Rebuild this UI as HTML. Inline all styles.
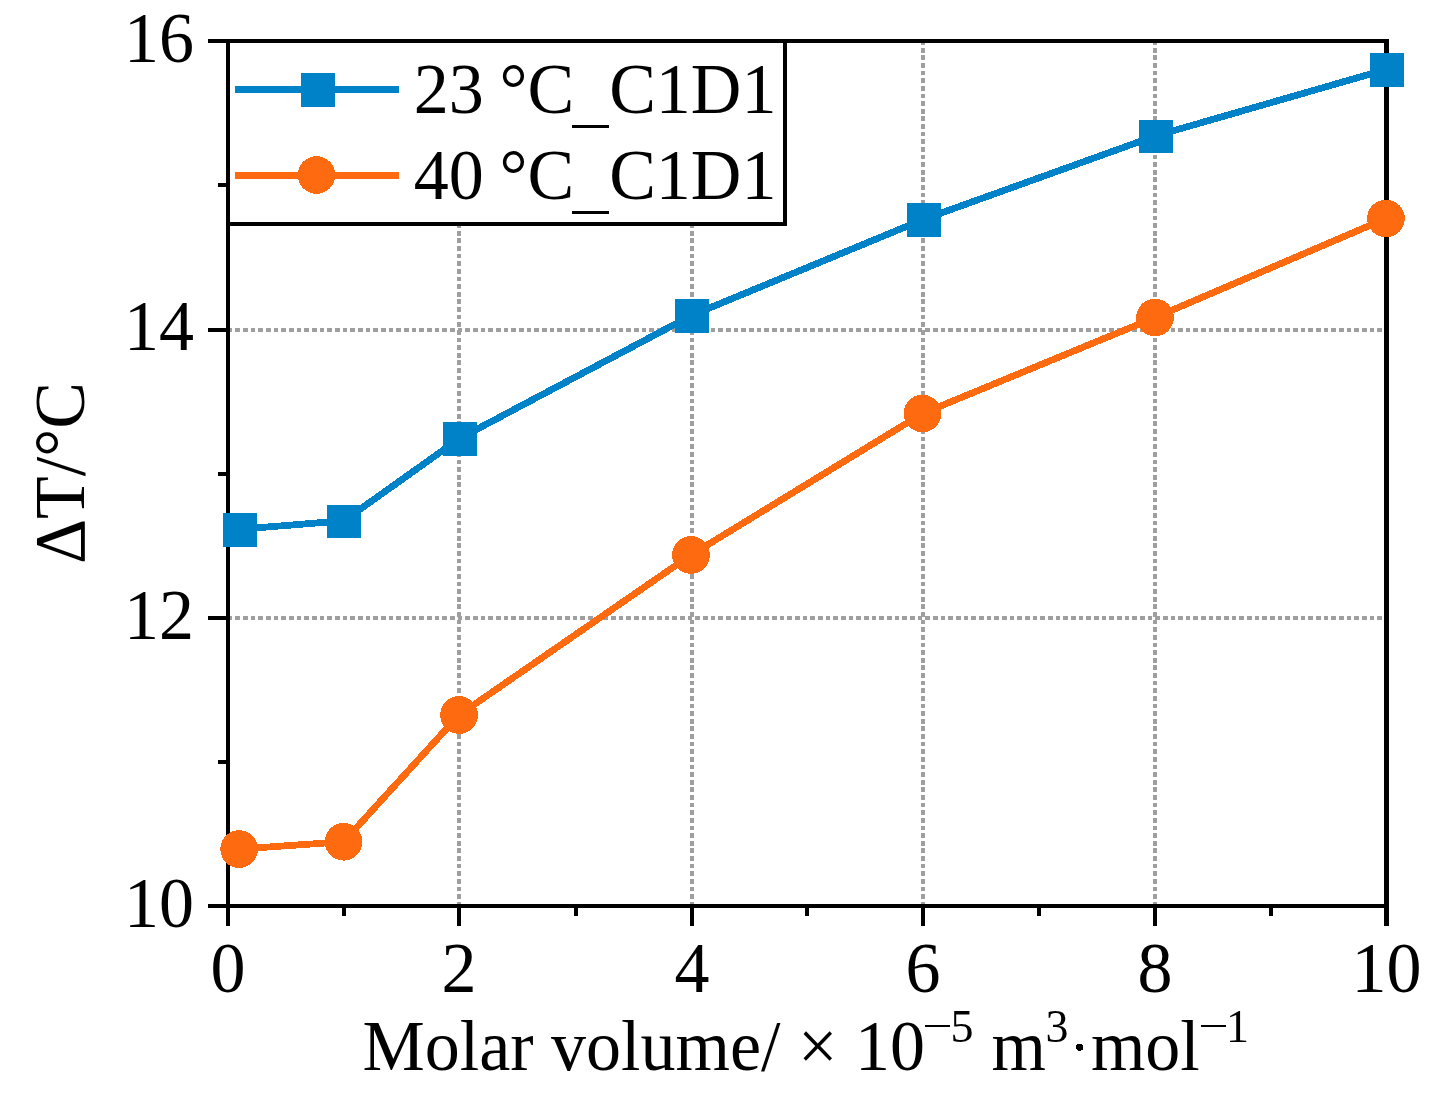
<!DOCTYPE html>
<html><head><meta charset="utf-8"><title>chart</title>
<style>html,body{margin:0;padding:0;background:#fff;}svg{display:block;}text{font-family:"Liberation Serif",serif;fill:#000;}</style></head><body>
<svg width="1448" height="1111" viewBox="0 0 1448 1111" shape-rendering="crispEdges">
<rect width="1448" height="1111" fill="#fff"/>
<g stroke="#9f9f9f" stroke-width="4" fill="none" shape-rendering="crispEdges">
<line x1="459" y1="906.5" x2="459" y2="41.0" stroke-dasharray="4.64 2.985"/>
<line x1="692" y1="906.5" x2="692" y2="41.0" stroke-dasharray="4.64 2.985"/>
<line x1="923" y1="906.5" x2="923" y2="41.0" stroke-dasharray="4.64 2.985"/>
<line x1="1155" y1="906.5" x2="1155" y2="41.0" stroke-dasharray="4.64 2.985"/>
<line x1="227.83" y1="618" x2="1387.0" y2="618" stroke-dasharray="4.664 3"/>
<line x1="227.83" y1="330" x2="1387.0" y2="330" stroke-dasharray="4.664 3"/>
</g>
<g stroke="#000" stroke-width="4" fill="none">
<line x1="228" y1="906.0" x2="228" y2="926.0"/>
<line x1="459" y1="906.0" x2="459" y2="926.0"/>
<line x1="692" y1="906.0" x2="692" y2="926.0"/>
<line x1="923" y1="906.0" x2="923" y2="926.0"/>
<line x1="1155" y1="906.0" x2="1155" y2="926.0"/>
<line x1="1386.5" y1="906.0" x2="1386.5" y2="926.0" stroke-width="5"/>
<line x1="228.0" y1="906" x2="208.0" y2="906"/>
<line x1="228.0" y1="618" x2="208.0" y2="618"/>
<line x1="228.0" y1="330" x2="208.0" y2="330"/>
<line x1="228.0" y1="41" x2="208.0" y2="41"/>
</g>
<g stroke="#000" stroke-width="4" fill="none">
<line x1="344" y1="906.0" x2="344" y2="916.0"/>
<line x1="576" y1="906.0" x2="576" y2="916.0"/>
<line x1="807" y1="906.0" x2="807" y2="916.0"/>
<line x1="1039" y1="906.0" x2="1039" y2="916.0"/>
<line x1="1271" y1="906.0" x2="1271" y2="916.0"/>
<line x1="228.0" y1="762" x2="218.0" y2="762"/>
<line x1="228.0" y1="474" x2="218.0" y2="474"/>
<line x1="228.0" y1="185" x2="218.0" y2="185"/>
</g>
<rect x="226" y="39" width="1163" height="4" fill="#000"/>
<rect x="226" y="904" width="1163" height="4" fill="#000"/>
<rect x="226" y="39" width="4" height="869" fill="#000"/>
<rect x="1384" y="39" width="5" height="869" fill="#000"/>
<polyline points="239.9,529.25 343.9,520.75 459.9,438.25 691.9,315.25 923.9,219.25 1155.9,135.75 1386.9,69.25" fill="none" stroke="#0082C8" stroke-width="6.8" stroke-linejoin="round" stroke-linecap="round"/>
<rect x="223" y="513" width="34" height="34" fill="#0082C8"/>
<rect x="327" y="505" width="34" height="33" fill="#0082C8"/>
<rect x="443" y="422" width="34" height="34" fill="#0082C8"/>
<rect x="675" y="299" width="34" height="34" fill="#0082C8"/>
<rect x="907" y="203" width="34" height="34" fill="#0082C8"/>
<rect x="1139" y="120" width="34" height="33" fill="#0082C8"/>
<rect x="1370" y="53" width="34" height="34" fill="#0082C8"/>
<polyline points="239.2,849.05 343.6,841.75 459.05,715.0 690.95,554.95 922.5,413.5 1155.0,317.5 1385.95,218.5" fill="none" stroke="#FD6A10" stroke-width="6.8" stroke-linejoin="round" stroke-linecap="round"/>
<circle cx="239.2" cy="849.05" r="18.85" fill="#FD6A10"/>
<circle cx="343.6" cy="841.75" r="18.85" fill="#FD6A10"/>
<circle cx="459.05" cy="715.0" r="18.85" fill="#FD6A10"/>
<circle cx="690.95" cy="554.95" r="18.85" fill="#FD6A10"/>
<circle cx="922.5" cy="413.5" r="18.85" fill="#FD6A10"/>
<circle cx="1155.0" cy="317.5" r="18.85" fill="#FD6A10"/>
<circle cx="1385.95" cy="218.5" r="18.85" fill="#FD6A10"/>
<rect x="228" y="41" width="557" height="183" fill="#fff" stroke="#000" stroke-width="4"/>
<line x1="238.4" y1="89.5" x2="395.8" y2="89.5" stroke="#0082C8" stroke-width="6.8" stroke-linecap="square"/>
<rect x="301" y="73" width="34" height="34" fill="#0082C8"/>
<line x1="238.4" y1="175.25" x2="395.8" y2="175.25" stroke="#FD6A10" stroke-width="6.8" stroke-linecap="square"/>
<circle cx="316.5" cy="175" r="18.85" fill="#FD6A10"/>
<text transform="translate(413.8 113.0) scale(1 1.022)" font-size="70" style="filter:grayscale(1)">23</text>
<text transform="translate(499.5 113.0) scale(1 1.022)" font-size="70" style="filter:grayscale(1)">°C</text>
<text transform="translate(609.17 113.0) scale(1 1.022)" font-size="70" style="filter:grayscale(1)">C1D1</text>
<rect x="572" y="124.6" width="37.3" height="3.5" fill="#000"/>
<text transform="translate(413.8 198.8) scale(1 1.022)" font-size="70" style="filter:grayscale(1)">40</text>
<text transform="translate(499.5 198.8) scale(1 1.022)" font-size="70" style="filter:grayscale(1)">°C</text>
<text transform="translate(609.17 198.8) scale(1 1.022)" font-size="70" style="filter:grayscale(1)">C1D1</text>
<rect x="572" y="210.8" width="37.3" height="3.5" fill="#000"/>
<text transform="translate(194.0 62.0) scale(1 1.022)" font-size="70" text-anchor="end" style="filter:grayscale(1)">16</text>
<text transform="translate(194.0 349.85) scale(1 1.022)" font-size="70" text-anchor="end" style="filter:grayscale(1)">14</text>
<text transform="translate(194.0 639.05) scale(1 1.022)" font-size="70" text-anchor="end" style="filter:grayscale(1)">12</text>
<text transform="translate(194.0 926.86) scale(1 1.022)" font-size="70" text-anchor="end" style="filter:grayscale(1)">10</text>
<text transform="translate(228 991.8) scale(1 1.022)" font-size="70" text-anchor="middle" style="filter:grayscale(1)">0</text>
<text transform="translate(459 991.8) scale(1 1.022)" font-size="70" text-anchor="middle" style="filter:grayscale(1)">2</text>
<text transform="translate(692 991.8) scale(1 1.022)" font-size="70" text-anchor="middle" style="filter:grayscale(1)">4</text>
<text transform="translate(923 991.8) scale(1 1.022)" font-size="70" text-anchor="middle" style="filter:grayscale(1)">6</text>
<text transform="translate(1155 991.8) scale(1 1.022)" font-size="70" text-anchor="middle" style="filter:grayscale(1)">8</text>
<text transform="translate(1386.5 991.8) scale(1 1.022)" font-size="70" text-anchor="middle" style="filter:grayscale(1)">10</text>
<text transform="translate(362.5 1069.9) scale(1 1.022)" font-size="70" style="filter:grayscale(1)">Molar volume/ × 10</text>
<rect x="924.9" y="1024.9" width="25.15" height="2.15" fill="#000"/>
<text transform="translate(950.5 1042.3) scale(1 1.022)" font-size="46" style="filter:grayscale(1)">5</text>
<text transform="translate(991.4 1069.9) scale(1 1.022)" font-size="70" style="filter:grayscale(1)">m</text>
<text transform="translate(1045.4 1042.3) scale(1 1.022)" font-size="46" style="filter:grayscale(1)">3</text>
<circle cx="1079.7" cy="1047.2" r="3.6" fill="#000"/>
<text transform="translate(1090.9 1069.9) scale(1 1.022)" font-size="70" style="filter:grayscale(1)">mol</text>
<rect x="1200.8" y="1024.9" width="25.3" height="2.15" fill="#000"/>
<text transform="translate(1226.1 1042.3) scale(1 1.022)" font-size="46" style="filter:grayscale(1)">1</text>
<text transform="translate(84.2 564.0) rotate(-90) scale(1 1.022)" font-size="70" style="filter:grayscale(1)">ΔT/°C</text>
</svg></body></html>
